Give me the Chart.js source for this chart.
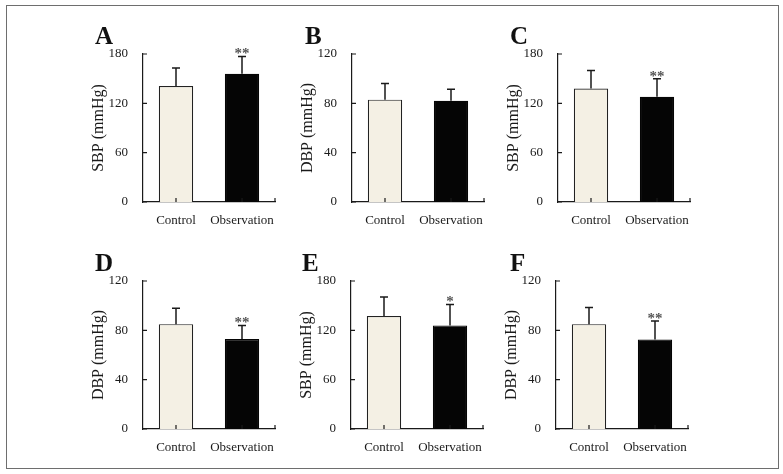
<!DOCTYPE html>
<html>
<head>
<meta charset="utf-8">
<script src="https://cdn.jsdelivr.net/npm/chart.js@4.4.1/dist/chart.umd.min.js"></script>
<style>
body { margin: 0; background: #fff; width: 783px; height: 474px; position: relative; overflow: hidden; }
.frame { position: absolute; left: 6px; top: 5px; width: 773px; height: 464px; border: 1.5px solid #6e6e6e; box-sizing: border-box; }
.panel { position: absolute; width: 202px; height: 213px; }
.letter { position: absolute; font: bold 25px "Liberation Serif", serif; color: #111; line-height: 1; }
</style>
</head>
<body>
<div class="frame"></div>
<script>
// data
var groups = ['Control', 'Observation'];
var panelLetters = ['A', 'B', 'C', 'D', 'E', 'F'];
var yTitles = ['SBP (mmHg)', 'DBP (mmHg)', 'SBP (mmHg)', 'DBP (mmHg)', 'SBP (mmHg)', 'DBP (mmHg)'];
var yMax = [180, 120, 180, 120, 180, 120];
var yStep = [60, 40, 60, 40, 60, 40];
var controlMean = [141, 83, 138, 85, 137.5, 85];
var controlSD = [22, 13, 22, 13, 23, 13.5];
var obsMean = [156, 82, 128, 73, 126, 72.5];
var obsSD = [21, 9.5, 22, 11, 25.5, 15];
var obsStars = ['**', '', '**', '**', '*', '**'];

// layout: canvas top-left and letter position for each panel
var canvasPos = [[83, 24], [292, 24], [498, 24], [83, 251], [291, 251], [496, 251]];
var letterPos = [[95, 23], [305, 23], [510, 23], [95, 250], [302, 250], [510, 250]];

var serif = '"Liberation Serif", "Times New Roman", serif';
var ink = '#1a1a1a';

// draws the SD whiskers, stars and the inward tick marks
var errorBars = {
  id: 'errorBars',
  afterDatasetsDraw: function(chart) {
    var i = chart.options.panelIndex;
    var ctx = chart.ctx;
    var ys = chart.scales.y, xs = chart.scales.x;
    var meta = chart.getDatasetMeta(0);
    var means = [controlMean[i], obsMean[i]];
    var sds = [controlSD[i], obsSD[i]];
    var stars = ['', obsStars[i]];
    ctx.save();
    ctx.strokeStyle = ink;
    ctx.lineWidth = 1.5;
    meta.data.forEach(function(bar, k) {
      var top = ys.getPixelForValue(means[k] + sds[k]);
      ctx.beginPath();
      ctx.moveTo(bar.x, bar.y);
      ctx.lineTo(bar.x, top);
      ctx.moveTo(bar.x - 4, top);
      ctx.lineTo(bar.x + 4, top);
      ctx.stroke();
      if (stars[k]) {
        ctx.fillStyle = '#555';
        ctx.font = 'bold 15px ' + serif;
        ctx.textAlign = 'center';
        ctx.textBaseline = 'alphabetic';
        ctx.fillText(stars[k], bar.x, top + 2);
      }
    });
    // inward ticks
    ctx.lineWidth = 1.2;
    ctx.beginPath();
    ys.ticks.forEach(function(t) {
      var py = ys.getPixelForValue(t.value);
      ctx.moveTo(xs.left, py);
      ctx.lineTo(xs.left + 4, py);
    });
    meta.data.forEach(function(bar) {
      ctx.moveTo(bar.x, ys.bottom);
      ctx.lineTo(bar.x, ys.bottom - 4);
    });
    ctx.moveTo(xs.right, ys.bottom);
    ctx.lineTo(xs.right, ys.bottom - 4);
    ctx.stroke();
    ctx.restore();
  }
};

panelLetters.forEach(function(letter, i) {
  var holder = document.createElement('div');
  holder.className = 'panel';
  holder.style.left = canvasPos[i][0] + 'px';
  holder.style.top = canvasPos[i][1] + 'px';
  var canvas = document.createElement('canvas');
  canvas.width = 202;
  canvas.height = 213;
  holder.appendChild(canvas);
  document.body.appendChild(holder);

  var lab = document.createElement('div');
  lab.className = 'letter';
  lab.textContent = letter;
  lab.style.left = letterPos[i][0] + 'px';
  lab.style.top = letterPos[i][1] + 'px';
  document.body.appendChild(lab);

  new Chart(canvas.getContext('2d'), {
    type: 'bar',
    data: {
      labels: groups,
      datasets: [{
        data: [controlMean[i], obsMean[i]],
        backgroundColor: ['#f4f0e4', '#050505'],
        borderColor: ['#222', '#050505'],
        borderWidth: 1.2,
        borderSkipped: 'bottom',
        categoryPercentage: 1,
        barPercentage: 0.52
      }]
    },
    options: {
      panelIndex: i,
      responsive: false,
      animation: false,
      layout: { padding: { top: 30, right: 10, left: 0, bottom: 0 } },
      plugins: { legend: { display: false }, tooltip: { enabled: false } },
      scales: {
        x: {
          grid: { display: false },
          border: { display: true, color: ink, width: 1.2 },
          ticks: { color: ink, font: { family: serif, size: 13 }, padding: 3, maxRotation: 0, minRotation: 0, autoSkip: false },
          afterFit: function(s) { s.height = 35; }
        },
        y: {
          min: 0,
          max: yMax[i],
          grid: { display: false },
          border: { display: true, color: ink, width: 1.2 },
          ticks: { stepSize: yStep[i], color: ink, font: { family: serif, size: 13 }, padding: 7 },
          title: { display: true, text: yTitles[i], color: ink, font: { family: serif, size: 16 }, padding: { top: 6, bottom: 0 } },
          afterFit: function(s) { s.width = 60; }
        }
      }
    },
    plugins: [errorBars]
  });
});
</script>
</body>
</html>
